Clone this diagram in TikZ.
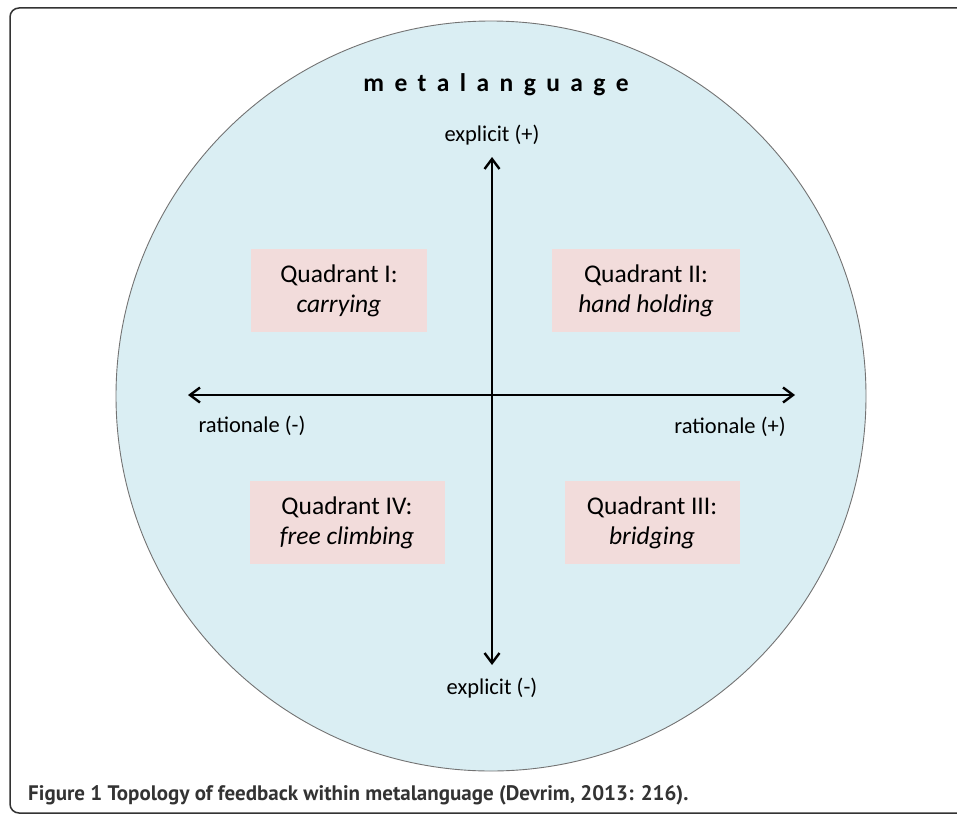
\documentclass[tikz,border=0pt]{standalone}
\usepackage{fontspec}
\setmainfont{Carlito}
\newfontfamily\capfont{PT Sans}
\usetikzlibrary{arrows.meta}

\newlength{\du}
\setlength{\du}{1pt}
\definecolor{framecolor}{rgb}{0.200000, 0.200000, 0.200000}
\definecolor{circlefill}{rgb}{0.855000, 0.933000, 0.953000}
\definecolor{circleline}{rgb}{0.450000, 0.450000, 0.450000}
\definecolor{quadfill}{rgb}{0.949000, 0.863000, 0.859000}

\begin{document}
\begin{tikzpicture}[
  quadbox/.style={fill=quadfill, inner sep=0pt, minimum height=83\du, align=center,
    font=\fontsize{25.5}{30}\selectfont},
  axislabel/.style={font=\fontsize{22.5}{27}\selectfont, inner sep=0pt},
  axis/.style={line width=1.3\du, {Straight Barb[length=10pt,width=15pt,line width=2.4pt]}-{Straight Barb[length=10pt,width=15pt,line width=2.4pt]}}
]
\pgftransformxscale{1.000000}
\pgftransformyscale{-1.000000}
\useasboundingbox (0\du,0\du) rectangle (957\du,816\du);
% frame
\draw[framecolor, line width=1.5\du, rounded corners=9\du] (10\du,8\du) rectangle (990\du,813\du);
% circle
\filldraw[fill=circlefill, draw=circleline, line width=0.9\du] (491\du,396\du) circle (375\du);
% setfont left to latex
\node[inner sep=0pt] (meta) at (496\du,85\du)
  {\fontsize{25.5}{30}\selectfont\bfseries\addfontfeatures{LetterSpace=41}metalanguage};
% axes
\coordinate (top) at (492\du,157\du);
\coordinate (bottom) at (492\du,665\du);
\coordinate (left) at (188\du,395\du);
\coordinate (right) at (795\du,395\du);
\draw[axis] (top) -- (bottom);
\draw[axis] (left) -- (right);
\node[axislabel] (explplus) at (492\du,135\du) {explicit (+)};
\node[axislabel] (explminus) at (492\du,688\du) {explicit (-)};
\node[axislabel] (ratminus) at (252\du,426\du) {rationale (-)};
\node[axislabel] (ratplus) at (730\du,427\du) {rationale (+)};
% quadrants
\node[quadbox, minimum width=176\du] (quadI) at (339\du,290.5\du) {Quadrant I:\\\textit{carrying}};
\node[quadbox, minimum width=188\du] (quadII) at (646\du,290.5\du) {Quadrant II:\\\textit{hand holding}};
\node[quadbox, minimum width=195\du] (quadIV) at (347\du,522.5\du) {Quadrant IV:\\\textit{free climbing}};
\node[quadbox, minimum width=175\du] (quadIII) at (652\du,522.5\du) {Quadrant III:\\\textit{bridging}};
% caption
\node[anchor=west, inner sep=0pt, text=framecolor] (caption) at (28\du,795\du)
  {\capfont\bfseries\fontsize{21}{25}\selectfont Figure 1 Topology of feedback within metalanguage (Devrim, 2013: 216).};
\end{tikzpicture}
\end{document}
